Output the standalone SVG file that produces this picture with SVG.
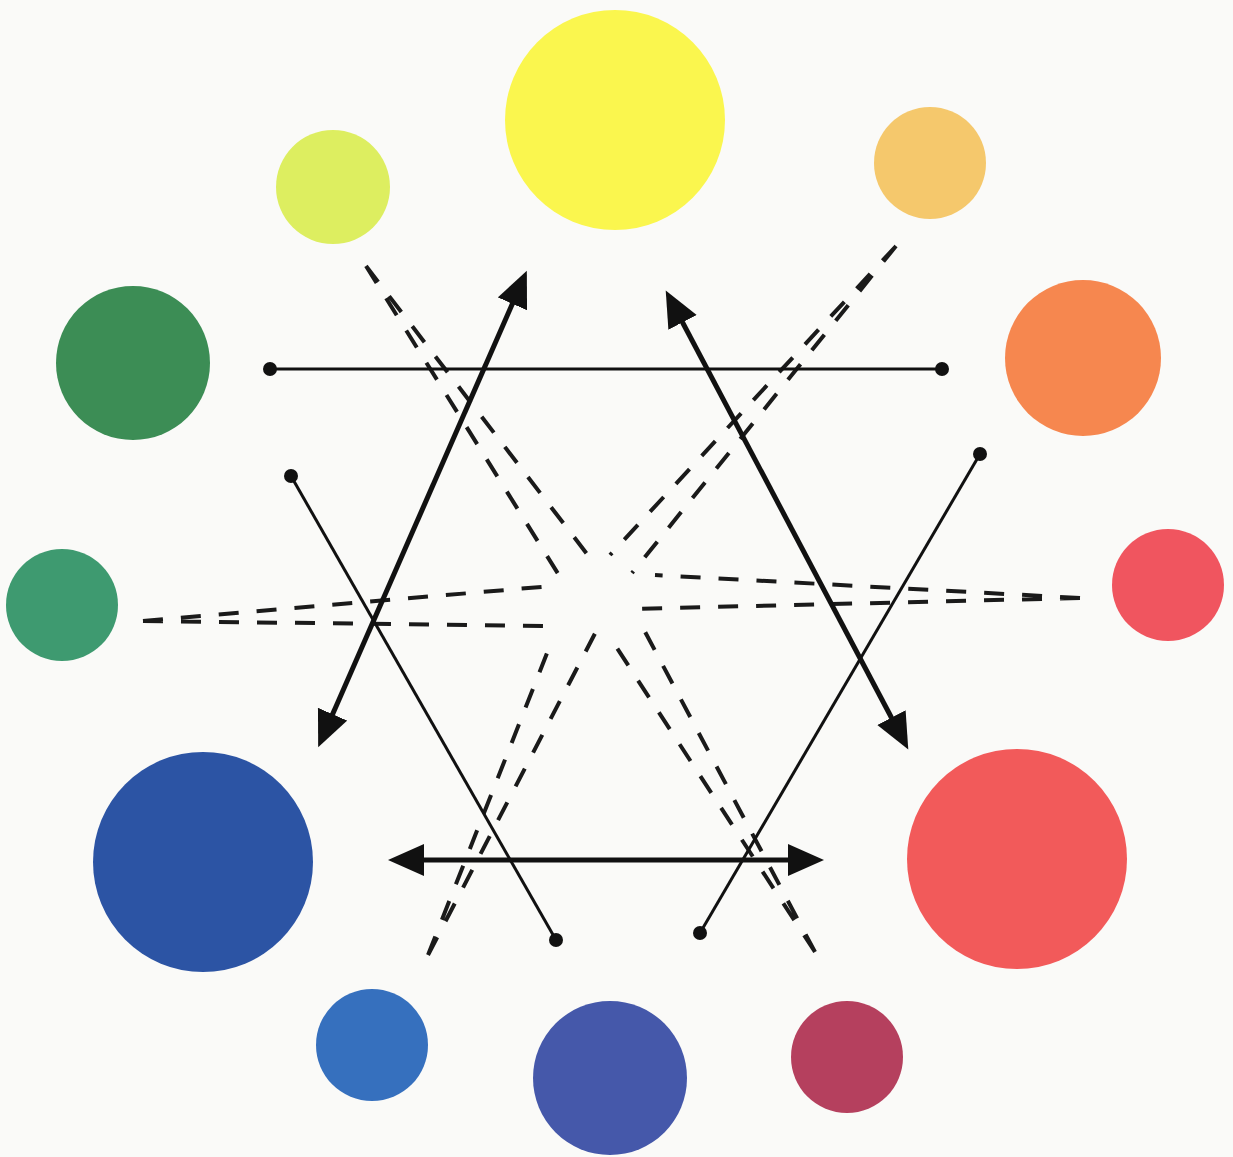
<svg xmlns="http://www.w3.org/2000/svg" width="1233" height="1157" viewBox="0 0 1233 1157">
<style>
.thin{stroke:#111;stroke-width:3;fill:none}
.thick{stroke:#111;stroke-width:5;fill:none;marker-start:url(#ah);marker-end:url(#ah)}
.dash{stroke:#1a1a1a;stroke-width:4;stroke-dasharray:20 18;fill:none}
.dot{fill:#111}
</style>
<defs>
<marker id="ah" markerUnits="userSpaceOnUse" markerWidth="40" markerHeight="34" viewBox="0 0 40 34" refX="14" refY="16" orient="auto-start-reverse">
<path d="M0,0 L36,16 L0,32 Z" fill="#111"/>
</marker>
</defs>
<rect width="1233" height="1157" fill="#FAFAF8"/>
<g id="circles">
<g id="c-yellow"><circle cx="615" cy="120" r="110" fill="#FAF64E"/></g>
<g id="c-yellowgreen"><circle cx="333" cy="187" r="57" fill="#DDEE60"/></g>
<g id="c-yelloworange"><circle cx="930" cy="163" r="56" fill="#F5C86C"/></g>
<g id="c-darkgreen"><circle cx="133" cy="363" r="77" fill="#3C8D55"/></g>
<g id="c-orange"><circle cx="1083" cy="358" r="78" fill="#F6874F"/></g>
<g id="c-teal"><circle cx="62" cy="605" r="56" fill="#3E9A70"/></g>
<g id="c-redorange"><circle cx="1168" cy="585" r="56" fill="#F0555F"/></g>
<g id="c-blue"><circle cx="203" cy="862" r="110" fill="#2C54A4"/></g>
<g id="c-red"><circle cx="1017" cy="859" r="110" fill="#F25A5A"/></g>
<g id="c-lightblue"><circle cx="372" cy="1045" r="56" fill="#3670BE"/></g>
<g id="c-violet"><circle cx="610" cy="1078" r="77" fill="#4558AA"/></g>
<g id="c-crimson"><circle cx="847" cy="1057" r="56" fill="#B5405E"/></g>
</g>
<g id="connectors">
<g id="dashed">
<path class="dash" d="M366,266 L562,580 M366,266 L597,567"/>
<path class="dash" d="M896,246 L610,555 M896,246 L632,573"/>
<path class="dash" d="M1080,598 L655,575 M1080,598 L630,609"/>
<path class="dash" d="M815,952 L643,628 M815,952 L613,642"/>
<path class="dash" d="M428,955 L602,620 M428,955 L553,638"/>
<path class="dash" d="M143,621 L552,586 M143,621 L550,626"/>
</g>
<g id="thin-lines">
<line class="thin" x1="270" y1="369" x2="942" y2="369"/>
<circle class="dot" cx="270" cy="369" r="7"/>
<circle class="dot" cx="942" cy="369" r="7"/>
<line class="thin" x1="291" y1="476" x2="556" y2="940"/>
<circle class="dot" cx="291" cy="476" r="7"/>
<circle class="dot" cx="556" cy="940" r="7"/>
<line class="thin" x1="980" y1="454" x2="700" y2="933"/>
<circle class="dot" cx="980" cy="454" r="7"/>
<circle class="dot" cx="700" cy="933" r="7"/>
</g>
<g id="arrows">
<line class="thick" x1="327" y1="727" x2="518" y2="291"/>
<line class="thick" x1="676" y1="310" x2="898" y2="730"/>
<line class="thick" x1="410" y1="860" x2="802" y2="860"/>
</g>
</g>
</svg>
